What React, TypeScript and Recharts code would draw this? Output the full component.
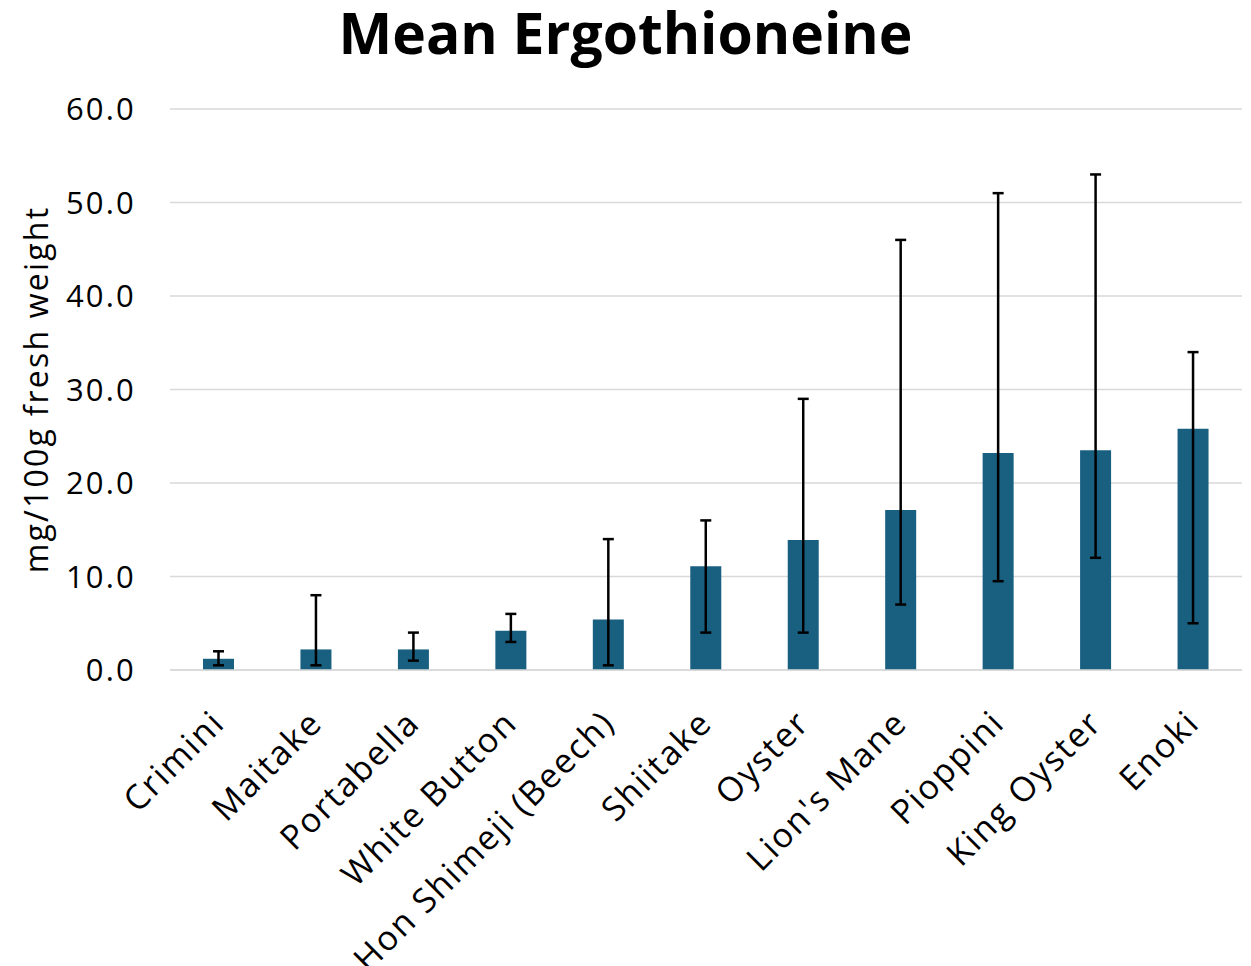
import React from 'react';
import { BarChart, Bar, XAxis, YAxis, CartesianGrid, ErrorBar } from 'recharts';

const categories = ['Crimini', 'Maitake', 'Portabella', 'White Button', 'Hon Shimeji (Beech)', 'Shiitake', 'Oyster', "Lion's Mane", 'Pioppini', 'King Oyster', 'Enoki'];
const means = [1.2, 2.2, 2.2, 4.2, 5.4, 11.1, 13.9, 17.1, 23.2, 23.5, 25.8];
const lowBounds = [0.5, 0.5, 1.0, 3.0, 0.5, 4.0, 4.0, 7.0, 9.5, 12.0, 5.0];
const highBounds = [2.0, 8.0, 4.0, 6.0, 14.0, 16.0, 29.0, 46.0, 51.0, 53.0, 34.0];
const yTicks = [0, 10, 20, 30, 40, 50, 60];

const data = categories.map((name, i) => ({
  name,
  value: means[i],
  err: [means[i] - lowBounds[i], highBounds[i] - means[i]],
}));

const FONT = '"Open Sans", sans-serif';

const XTick = (props: any) => {
  const { x, y, payload } = props;
  const ax = x + 8;
  const ay = y + 55;
  return (
    <text x={ax} y={ay} textAnchor="end" transform={`rotate(-45 ${ax} ${ay})`} fontFamily={FONT} fontSize={34} letterSpacing={1.8} fill="#000">
      {payload.value}
    </text>
  );
};

export default function App() {
  return (
    <div style={{ position: 'absolute', left: 0, top: 0, width: 1251, height: 966, background: '#fff' }}>
      <div style={{ position: 'absolute', left: 0, top: 0, width: 1251, textAlign: 'center', fontFamily: FONT, fontWeight: 700, fontSize: 57, lineHeight: '64px', color: '#000' }}>
        Mean Ergothioneine
      </div>
      <BarChart width={1251} height={966} data={data} margin={{ top: 109, right: 9, left: 0, bottom: 0 }} barCategoryGap={0}>
        <CartesianGrid vertical={false} stroke="#d9d9d9" strokeWidth={1.5} />
        <XAxis dataKey="name" height={296} tickLine={false} tickSize={0} tickMargin={0} axisLine={{ stroke: '#d9d9d9', strokeWidth: 1.5 }} tick={<XTick />} interval={0} />
        <YAxis
          width={170}
          domain={[0, 60]}
          ticks={yTicks}
          tickFormatter={(v: number) => v.toFixed(1)}
          axisLine={false}
          tickLine={false}
          tickSize={0}
          tickMargin={34}
          tick={{ fontFamily: FONT, fontSize: 31, fill: '#000', letterSpacing: 2.2 }}
          label={{ value: 'mg/100g fresh weight', angle: -90, position: 'insideLeft', offset: 37, style: { textAnchor: 'middle', fontFamily: FONT, fontSize: 32, letterSpacing: 2.2, fill: '#000' } }}
        />
        <Bar dataKey="value" fill="#185f80" barSize={31} isAnimationActive={false}>
          <ErrorBar dataKey="err" width={5.5} stroke="#000" strokeWidth={2.5} isAnimationActive={false} />
        </Bar>
      </BarChart>
    </div>
  );
}
